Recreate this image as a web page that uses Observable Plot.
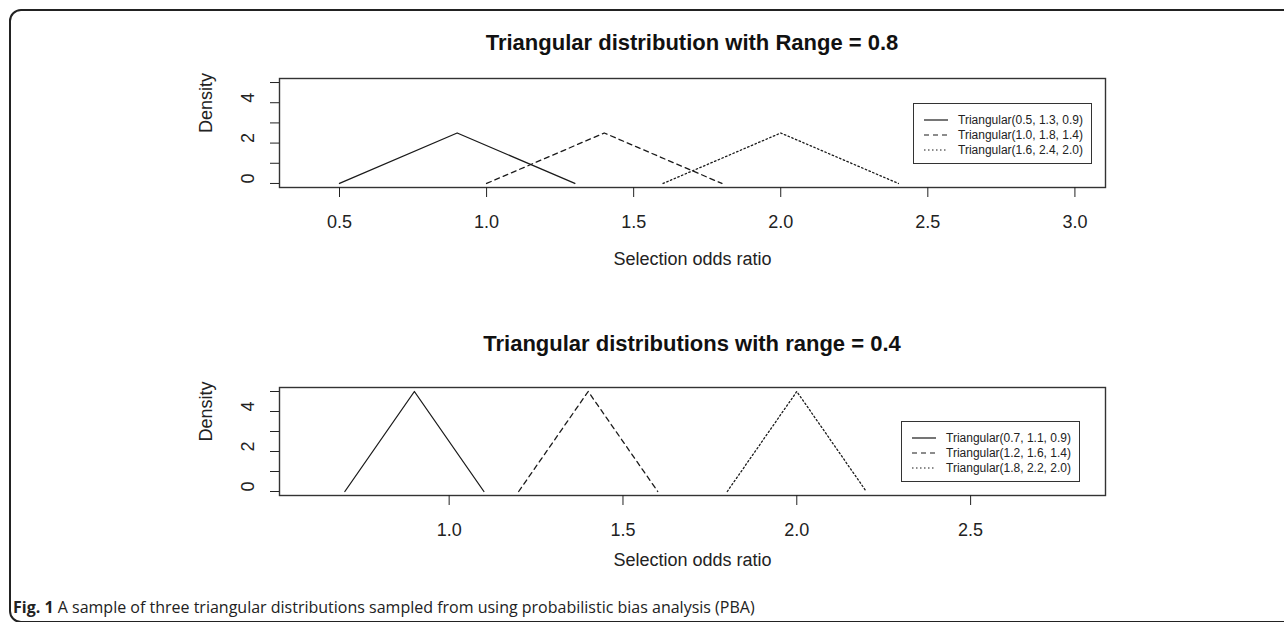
<!DOCTYPE html>
<html><head><meta charset="utf-8">
<script src="https://cdn.jsdelivr.net/npm/d3@7"></script>
<script src="https://cdn.jsdelivr.net/npm/@observablehq/plot@0.6"></script>
<style>
body{margin:0;background:#fff;}
#root{position:relative;width:1284px;height:622px;overflow:hidden;background:#fff;font-family:"Liberation Sans",Arial,sans-serif;}
#frame{position:absolute;left:9px;top:9px;width:1320px;height:614px;border:2px solid #222;border-radius:12px;box-sizing:border-box;}
.panel{position:absolute;left:0;width:1284px;height:300px;}
.title{position:absolute;left:279px;width:826px;text-align:center;font-weight:bold;font-size:22px;line-height:26px;color:#111;white-space:nowrap;}
.legend{position:absolute;border:1.3px solid #333;box-sizing:border-box;background:#fff;font-size:12px;color:#222;}
.legend .row{position:absolute;left:0;height:14px;width:100%;}
.legend .row svg{position:absolute;top:0;}
.legend .row span{position:absolute;top:0;line-height:14px;white-space:nowrap;}
#caption{position:absolute;left:13px;top:597px;font-family:"Open Sans","Noto Sans",sans-serif;font-size:16px;line-height:20px;color:#222;white-space:nowrap;}
</style>
</head><body>
<div id="root">
  <div id="frame"></div>
  <div class="title" style="top:30px">Triangular distribution with Range = 0.8</div>
  <div class="title" style="top:331px">Triangular distributions with range = 0.4</div>
  <div id="p1" class="panel" style="top:0"></div>
  <div id="p2" class="panel" style="top:300px"></div>
  <div id="caption"><b>Fig. 1</b> A sample of three triangular distributions sampled from using probabilistic bias analysis (PBA)</div>
</div>
<script>
// ---- data ----
const topNames = ["Triangular(0.5, 1.3, 0.9)", "Triangular(1.0, 1.8, 1.4)", "Triangular(1.6, 2.4, 2.0)"];
const topLow   = [0.5, 1.0, 1.6];
const topMode  = [0.9, 1.4, 2.0];
const topHigh  = [1.3, 1.8, 2.4];
const topPeak  = [2.5, 2.5, 2.5];

const botNames = ["Triangular(0.7, 1.1, 0.9)", "Triangular(1.2, 1.6, 1.4)", "Triangular(1.8, 2.2, 2.0)"];
const botLow   = [0.7, 1.2, 1.8];
const botMode  = [0.9, 1.4, 2.0];
const botHigh  = [1.1, 1.6, 2.2];
const botPeak  = [5.0, 5.0, 5.0];

const topXTicks = [0.5, 1.0, 1.5, 2.0, 2.5, 3.0];
const botXTicks = [1.0, 1.5, 2.0, 2.5];
const yTicks = [0, 1, 2, 3, 4, 5];
const yTickLabels = [0, 2, 4];
const dashes = [null, "5,4", "1.5,2.5"];

function rows(names, low, mode, high, peak) {
  const out = [];
  names.forEach((n, i) => {
    out.push({series: n, x: low[i], y: 0});
    out.push({series: n, x: mode[i], y: peak[i]});
    out.push({series: n, x: high[i], y: 0});
  });
  return out;
}

function panel(names, data, xDomain, xTicks, marginTop, marginBottom, xlabDy) {
  const lineMarks = names.map((n, i) => {
    const o = {x: "x", y: "y", stroke: "#1a1a1a", strokeWidth: 1.3};
    if (dashes[i]) o.strokeDasharray = dashes[i];
    return Plot.line(data.filter(d => d.series === n), o);
  });
  return Plot.plot({
    width: 1284, height: 300,
    marginLeft: 279, marginRight: 179, marginTop, marginBottom,
    x: {domain: xDomain},
    y: {domain: [-0.2, 5.2]},
    style: {fontSize: "18px", fontFamily: "'Liberation Sans', Arial, sans-serif", color: "#222", background: "transparent", overflow: "visible"},
    marks: [
      Plot.frame({stroke: "#333", strokeWidth: 1.4}),
      Plot.axisX({ticks: xTicks, tickSize: 10, tickPadding: 18, tickFormat: d3.format(".1f"), label: null}),
      Plot.axisY({ticks: yTicks, tickSize: 9, tickFormat: () => "", label: null}),
      Plot.text(yTickLabels, {y: d => d, text: d => String(d), frameAnchor: "left", dx: -31, rotate: -90}),
      Plot.text(["Density"], {text: d => d, frameAnchor: "left", dx: -73, rotate: -90}),
      Plot.text(["Selection odds ratio"], {text: d => d, frameAnchor: "bottom", dy: xlabDy}),
      ...lineMarks
    ]
  });
}

document.getElementById("p1").appendChild(
  panel(topNames, rows(topNames, topLow, topMode, topHigh, topPeak), [0.296, 3.104], topXTicks, 78, 113, 77));
document.getElementById("p2").appendChild(
  panel(botNames, rows(botNames, botLow, botMode, botHigh, botPeak), [0.512, 2.888], botXTicks, 87, 105, 70));

function legend(names, left, top, lineX0, lineX1, textX) {
  const div = document.createElement("div");
  div.className = "legend";
  div.style.left = left + "px"; div.style.top = top + "px";
  div.style.width = "179px"; div.style.height = "61px";
  names.forEach((n, i) => {
    const r = document.createElement("div");
    r.className = "row";
    r.style.top = (9 + i * 15) + "px";
    const dash = dashes[i] ? ` stroke-dasharray="${dashes[i]}"` : "";
    r.innerHTML = `<svg width="${lineX1 + 2}" height="14" style="left:0"><line x1="${lineX0}" x2="${lineX1}" y1="7" y2="7" stroke="#1a1a1a" stroke-width="1.2"${dash}/></svg><span style="left:${textX}px">${n}</span>`;
    div.appendChild(r);
  });
  document.getElementById("root").appendChild(div);
}
legend(topNames, 913, 103, 10, 34, 44);
legend(botNames, 901, 421, 10, 34, 44);
</script>
</body></html>
